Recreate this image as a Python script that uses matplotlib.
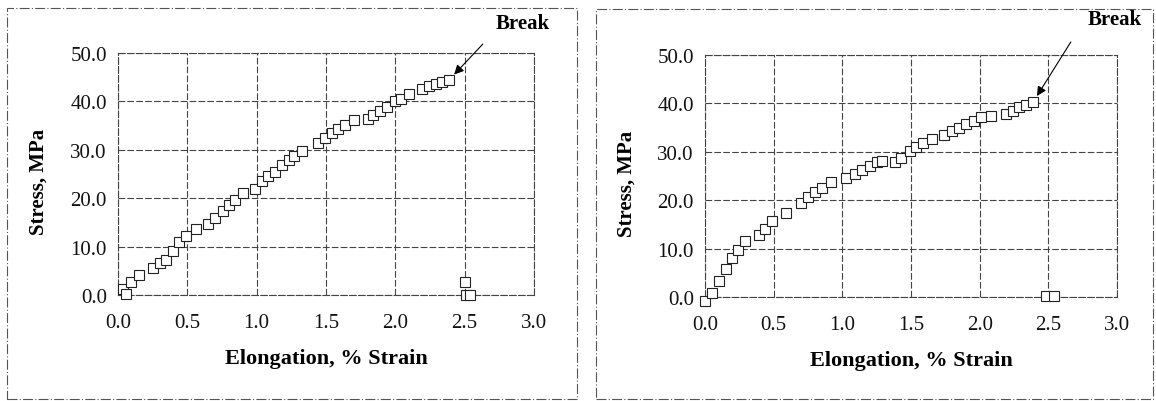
import matplotlib
matplotlib.use("Agg")
import matplotlib.pyplot as plt
from matplotlib.patches import Rectangle

plt.rcParams['font.family'] = ['Liberation Serif', 'DejaVu Serif']

# specimen 1 (left)
strain_1 = [0.035, 0.06, 0.095, 0.15, 0.25, 0.30, 0.345, 0.40, 0.44, 0.49, 0.56,
            0.65, 0.70, 0.76, 0.80, 0.845, 0.90, 0.99, 1.04, 1.08, 1.13, 1.18,
            1.23, 1.27, 1.33, 1.44, 1.49, 1.54, 1.59, 1.64, 1.70, 1.80, 1.84,
            1.89, 1.94, 2.00, 2.04, 2.10, 2.19, 2.24, 2.29, 2.34, 2.39,
            2.50, 2.51, 2.54]
stress_1 = [1.2, 0.2, 2.7, 4.1, 5.6, 6.6, 7.3, 9.0, 11.0, 12.1, 13.6,
            14.7, 16.0, 17.3, 18.6, 19.7, 21.1, 22.0, 23.5, 24.5, 25.5, 26.8,
            27.8, 28.8, 29.7, 31.5, 32.4, 33.4, 34.4, 35.2, 36.1, 36.3, 37.2,
            38.0, 38.9, 40.0, 40.4, 41.5, 42.6, 43.1, 43.6, 44.1, 44.5,
            2.6, 0.1, 0.0]

# specimen 2 (right)
strain_2 = [0.0, 0.05, 0.10, 0.15, 0.20, 0.24, 0.29, 0.39, 0.44, 0.49, 0.59,
            0.70, 0.75, 0.80, 0.85, 0.92, 1.03, 1.09, 1.14, 1.20, 1.25, 1.29,
            1.38, 1.43, 1.49, 1.54, 1.59, 1.65, 1.74, 1.80, 1.85, 1.90, 1.96,
            2.01, 2.08, 2.19, 2.24, 2.29, 2.34, 2.39,
            2.48, 2.54]
stress_2 = [-0.9, 0.8, 3.3, 5.8, 8.0, 9.8, 11.6, 12.8, 14.0, 15.8, 17.4,
            19.4, 20.7, 21.6, 22.5, 23.8, 24.6, 25.4, 26.2, 27.1, 27.8, 28.0,
            27.9, 28.8, 30.2, 31.0, 31.8, 32.6, 33.4, 34.3, 35.0, 35.7, 36.4,
            37.1, 37.4, 37.8, 38.5, 39.2, 39.7, 40.3,
            0.3, 0.2]

x_ticks = [0.0, 0.5, 1.0, 1.5, 2.0, 2.5, 3.0]
y_ticks = [0.0, 10.0, 20.0, 30.0, 40.0, 50.0]

W, H = 1156, 402
fig = plt.figure(figsize=(W / 100, H / 100), dpi=100)


def px_rect(x0, y0, x1, y1):
    # pixel box (top-left origin) -> figure fraction
    return [x0 / W, (H - y1) / H, (x1 - x0) / W, (y1 - y0) / H]


# panel frames
for x0, y0, x1, y1 in [(7, 9, 577, 400), (596, 10, 1153, 400)]:
    l, b, w, h = px_rect(x0, y0, x1, y1)
    fig.add_artist(Rectangle((l, b), w, h, transform=fig.transFigure, fill=False,
                             lw=0.8, ec='#555555', ls=(0, (9, 2, 1, 2))))

panels = [
    (px_rect(118, 54, 534, 296), strain_1, stress_1, (0.877, 1.037), (0.974, 1.125)),
    (px_rect(705, 56, 1117, 298), strain_2, stress_2, (0.888, 1.054), (0.995, 1.148)),
]

for rect, xs, ys, tail, txt in panels:
    ax = fig.add_axes(rect)
    ax.plot(xs, ys, ls='none', marker='s', ms=7.5, mfc='white', mec='#222222',
            mew=0.8, clip_on=False, zorder=3)
    ax.set_xlim(0, 3.0)
    ax.set_ylim(0, 50.0)
    ax.set_xticks(x_ticks)
    ax.set_yticks(y_ticks)
    ax.set_xticklabels(['%.1f' % v for v in x_ticks])
    ax.set_yticklabels(['%.1f' % v for v in y_ticks])
    ax.tick_params(axis='both', length=0, labelsize=15, colors='#111111')
    ax.tick_params(axis='x', pad=13)
    ax.tick_params(axis='y', pad=8)
    ax.grid(True, color='#444444', lw=0.8, ls=(0, (6, 2)))
    ax.set_axisbelow(True)
    for sp in ax.spines.values():
        sp.set_color('#444444')
        sp.set_linewidth(0.8)
        sp.set_linestyle((0, (6, 2)))

    ax.set_xlabel('Elongation, % Strain', fontsize=16, fontweight='bold')
    ax.xaxis.set_label_coords(0.5, -0.22)
    ax.set_ylabel('Stress, MPa', fontsize=15, fontweight='bold')
    ax.yaxis.set_label_coords(-0.166, 0.47)

    # break point = highest stress reached
    i_brk = ys.index(max(ys))
    ax.annotate('', xy=(xs[i_brk], ys[i_brk]), xytext=tail, textcoords='axes fraction',
                arrowprops=dict(arrowstyle='-|>', color='black', lw=0.8,
                                shrinkA=0, shrinkB=5, mutation_scale=14))
    ax.text(txt[0], txt[1], 'Break', transform=ax.transAxes, ha='center',
            va='center', fontsize=15, fontweight='bold', clip_on=False)

fig.savefig('out.png', dpi=100)
